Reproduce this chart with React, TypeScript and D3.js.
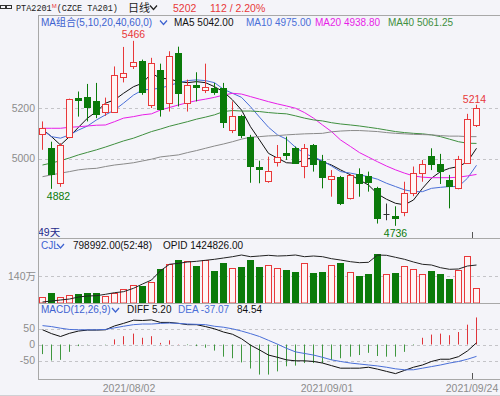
import React from 'react'
import * as d3 from 'd3'

const width = 500
const height = 396

// daily candles, PTA2201, 2021/07 .. 2021/09/24
const opens = [
  5098, 5042, 4906, 5088, 5240, 5243, 5227, 5185, 5187, 5324, 5366, 5388, 5214, 5350, 5221, 5419, 5221,
  5290, 5273, 5280, 5280, 5115, 5170, 5088, 4970, 4914, 4989, 5025, 5042, 4972, 5055, 4993, 4920, 4930,
  4844, 4941, 4933, 4886, 4782, 4774, 4791, 4864, 4946, 5012, 4980, 4917, 4884, 4985, 5135,
]
const highs = [
  5148, 5068, 5062, 5238, 5266, 5296, 5300, 5242, 5365, 5442, 5466, 5392, 5399, 5376, 5425, 5443, 5313,
  5342, 5376, 5300, 5300, 5227, 5174, 5095, 4993, 5009, 5055, 5088, 5049, 5059, 5059, 5016, 4956, 4933,
  4939, 4963, 4950, 4890, 4824, 4813, 4910, 4970, 4996, 5042, 5020, 4937, 5012, 5178, 5214,
]
const lows = [
  5036, 4882, 4890, 5082, 5167, 5148, 5161, 5170, 5183, 5302, 5355, 5253, 5201, 5167, 5187, 5207, 5187,
  5227, 5260, 5253, 5122, 5102, 5082, 4906, 4904, 4906, 4970, 4996, 4980, 4924, 4950, 4884, 4851, 4818,
  4840, 4851, 4871, 4745, 4758, 4736, 4774, 4853, 4910, 4956, 4901, 4805, 4880, 4980, 5126,
]
const closes = [
  5122, 4941, 5055, 5236, 5234, 5203, 5178, 5217, 5330, 5339, 5381, 5263, 5379, 5197, 5406, 5260, 5293,
  5282, 5282, 5266, 5144, 5170, 5095, 4972, 4959, 4954, 5007, 5016, 4983, 5042, 4980, 4927, 4933, 4827,
  4937, 4904, 4910, 4765, 4782, 4768, 4864, 4943, 4980, 4980, 4954, 4893, 4999, 5158, 5202,
]

const ma5 = [
  5117, 5088, 5055, 5088, 5125, 5161, 5187, 5220, 5233, 5259, 5285, 5299, 5338, 5318, 5316, 5305, 5301,
  5305, 5301, 5285, 5265, 5233, 5193, 5127, 5075, 5022, 5003, 4985, 4983, 4996, 5007, 4989, 4976, 4957,
  4937, 4917, 4897, 4862, 4841, 4825, 4819, 4838, 4884, 4924, 4950, 4963, 4970, 4989, 5042,
]
const ma10 = [
  5114, 5088, 5082, 5095, 5114, 5130, 5154, 5174, 5193, 5220, 5252, 5272, 5275, 5279, 5290, 5301, 5309,
  5312, 5309, 5301, 5275, 5259, 5243, 5206, 5165, 5125, 5095, 5078, 5046, 5022, 5007, 4993, 4972, 4950,
  4944, 4937, 4930, 4920, 4904, 4891, 4878, 4871, 4871, 4884, 4888, 4891, 4891, 4924, 4975,
]
const ma20 = [
  5121, 5121, 5121, 5125, 5127, 5130, 5133, 5134, 5147, 5161, 5167, 5174, 5178, 5193, 5203, 5213, 5222,
  5230, 5236, 5243, 5252, 5259, 5256, 5246, 5236, 5226, 5217, 5209, 5200, 5183, 5161, 5134, 5108, 5075,
  5049, 5025, 5007, 4989, 4972, 4957, 4944, 4933, 4928, 4926, 4926, 4926, 4928, 4933, 4938.8,
]
const ma40 = [
  4976, 4984, 4993, 5004, 5016, 5026, 5036, 5047, 5059, 5071, 5082, 5095, 5108, 5118, 5129, 5138, 5147,
  5157, 5165, 5174, 5187, 5191, 5189, 5189, 5187, 5183, 5180, 5178, 5170, 5161, 5154, 5150, 5143, 5138,
  5134, 5130, 5125, 5120, 5114, 5108, 5104, 5101, 5099, 5095, 5088, 5078, 5068, 5062, 5061.25,
]
const ma60 = [
  4930, 4937, 4944, 4950, 4957, 4961, 4963, 4970, 4976, 4980, 4985, 4992, 4999, 5008, 5012, 5016, 5025,
  5033, 5042, 5051, 5059, 5068, 5078, 5086, 5088, 5091, 5092, 5095, 5097, 5099, 5100, 5101, 5107, 5110,
  5112, 5112, 5110, 5108, 5104, 5101, 5099, 5097, 5096, 5095, 5092, 5090, 5090, 5088, 5088,
]

// volume and open interest, in 万
const volumes = [
  33, 51, 30, 40, 46, 54, 54, 37, 54, 72, 94, 89, 109, 178, 203, 225, 217, 194, 225, 168, 208, 182, 187,
  225, 187, 196, 182, 169, 161, 208, 156, 161, 196, 208, 161, 138, 150, 255, 150, 156, 194, 178, 150, 168,
  150, 124, 173, 246, 79.8992,
]
const openInterest = [
  105.5, 106.5, 107.5, 108.5, 110.5, 111.5, 111.8, 113.2, 114.8, 115.8, 119.2, 123.5, 127.5, 136.8, 143.2,
  144.2, 145.5, 146.2, 147.2, 148.2, 149.5, 150.8, 152.5, 150.8, 151.5, 152.2, 151.5, 151.8, 152.5, 150.8,
  151.5, 150.8, 148.8, 147.5, 145.8, 144.8, 145.2, 152.5, 152.2, 150.2, 148.2, 145.5, 143.2, 142.5, 139.8,
  138.2, 138.5, 141.5, 142.4826,
]

// MACD(12,26,9)
const diff = [
  46, 34, 25, 35, 42, 45, 45, 46, 58, 66, 76, 75, 77, 69, 69, 66, 62, 62, 56, 49, 39, 32, 18, -2, -17, -33,
  -40, -48, -51, -51, -53, -58, -66, -74, -74, -74, -71, -77, -84, -91, -81, -71, -64, -53, -46, -46, -38,
  -20, 5.2,
]
const dea = [
  59, 56, 51, 47, 46, 46, 46, 47, 52, 57, 62, 64, 64, 66, 67, 66, 64, 63, 62, 57, 54, 49, 42, 34, 25, 13, 1,
  -12, -23, -28, -33, -40, -48, -53, -58, -61, -64, -67, -71, -76, -79, -79, -74, -69, -64, -58, -53, -46,
  -37.07,
]
const macd = [
  -30, -50, -48, -23, -5, -1, 0, -1, 16, 26, 34, 21, 26, 5, 13, 1, -2, -5, -10, -19, -38, -43, -56, -75,
  -94, -94, -84, -68, -66, -58, -58, -58, -48, -43, -38, -33, -26, -36, -38, -38, -23, -2, 21, 31, 34, 29,
  39, 62, 84.54,
]

const priceTicks = [5000, 5200]
const volTicks = [140]
const macdTicks = [50, 0, -50]
const dateLabels = ['2021/08/02', '2021/09/01', '2021/09/24']
const dateIndex = [11, 33, 48]

const maLines = [
  { name: 'MA5', values: ma5, color: '#111111' },
  { name: 'MA10', values: ma10, color: '#4a6fd8' },
  { name: 'MA20', values: ma20, color: '#e81ee8' },
  { name: 'MA40', values: ma40, color: '#3f8f3f' },
  { name: 'MA60', values: ma60, color: '#8a8a8a' },
]

const RED = '#e8383a'
const GREEN = '#0a7a0a'
const HOLLOW = '#fff4f4'
const BG = '#f4f4f9'
const AXIS = '#a8a8a8'
const TICK = '#8c8c8c'
const BLUE = '#3d62d0'
const font = '"Liberation Sans", Arial, "Noto Sans CJK SC", sans-serif'
const mono = '"Liberation Mono", monospace'

function Chevron({ x, y, color }) {
  return <path d={`M${x},${y} L${x + 3.5},${y + 4} L${x + 7},${y}`} fill="none" stroke={color} strokeWidth={1.2} />
}

export default function App() {
  const idx = d3.range(closes.length)
  const x = d3.scaleBand<number>().domain(idx).range([38, 481]).paddingInner(0.25).paddingOuter(0.125)
  const bw = Math.round(x.bandwidth()) - 1
  const left = (i: number) => Math.round(x(i)!) + 0.5
  const mid = (i: number) => left(i) + bw / 2

  const yPrice = d3.scaleLinear().domain([4688, 5568]).range([238, 15])
  const yVol = d3.scaleLinear().domain([0, 140]).range([303, 276])
  const yOi = d3.scaleLinear().domain([100, 150]).range([307.5, 257.5])
  const yMacd = d3.scaleLinear().domain([-50, 50]).range([360.5, 328.5])
  const crisp = (v: number) => Math.round(v) + 0.5
  const last = closes.length - 1

  const line = (ys: (v: number) => number) =>
    d3
      .line<number>()
      .x((_, i) => mid(i))
      .y((v) => ys(v))

  const candles = idx.map((i) => {
    const o = opens[i]
    const c = closes[i]
    const w = mid(i)
    const top = crisp(yPrice(Math.max(o, c)))
    const bot = crisp(yPrice(Math.min(o, c)))
    const hi = yPrice(highs[i])
    const lo = yPrice(lows[i])
    if (o === c) {
      return (
        <g key={i} stroke="#333">
          <line x1={w} x2={w} y1={hi} y2={lo} />
          <line x1={left(i)} x2={left(i) + bw} y1={top} y2={top} />
        </g>
      )
    }
    if (c > o) {
      return (
        <g key={i} stroke={RED}>
          <line x1={w} x2={w} y1={hi} y2={top} />
          <line x1={w} x2={w} y1={bot} y2={lo} />
          <rect x={left(i)} y={top} width={bw} height={Math.max(bot - top, 1)} fill={HOLLOW} />
        </g>
      )
    }
    return (
      <g key={i} stroke={GREEN}>
        <line x1={w} x2={w} y1={hi} y2={lo} />
        <rect x={left(i)} y={top} width={bw} height={Math.max(bot - top, 1)} fill={GREEN} />
      </g>
    )
  })

  const volBars = idx.map((i) => {
    const up = closes[i] >= opens[i]
    const top = crisp(yVol(volumes[i]))
    return (
      <rect
        key={i}
        x={left(i)}
        y={top}
        width={bw}
        height={yVol(0) - top}
        fill={up ? HOLLOW : GREEN}
        stroke={up ? RED : GREEN}
      />
    )
  })

  const macdBars = idx.map((i) => (
    <line
      key={i}
      x1={mid(i)}
      x2={mid(i)}
      y1={yMacd(0)}
      y2={yMacd(macd[i])}
      stroke={macd[i] >= 0 ? '#e0343a' : '#3f973f'}
    />
  ))

  const grid = (ys: number[], scale: (v: number) => number) =>
    ys.map((t) => (
      <line key={t} x1={39} x2={width} y1={crisp(scale(t))} y2={crisp(scale(t))} stroke="#c4c4c8" strokeDasharray="3 3" />
    ))

  const hiIdx = highs.indexOf(d3.max(highs)!)
  const loIdx = lows.indexOf(d3.min(lows)!)
  const change = closes[last] - 5090

  return (
    <svg
      width={width}
      height={height}
      style={{ position: 'fixed', left: 0, top: 0, background: BG, fontFamily: font }}
    >
      <rect width={width} height={height} fill={BG} />

      {/* header */}
      <g fill="none" stroke="#333" strokeWidth={1}>
        <rect x={0.5} y={5.5} width={5} height={3} />
        <rect x={6.5} y={5.5} width={5} height={3} />
      </g>
      <text x={16} y={11} fontSize={8.5} fontFamily={mono} fill="#222">
        PTA2201
        <tspan fill={RED} fontSize={6} fontFamily={font} dy={-3}>M</tspan>
        <tspan dy={3}>(CZCE TA201)</tspan>
      </text>
      <text x={128} y={11.5} fontSize={11} fontFamily='"Noto Sans CJK SC", sans-serif' fill="#222">日线</text>
      <Chevron x={150} y={5.5} color="#222" />
      <text x={173} y={11.5} fontSize={10.5} fill={RED}>{closes[last]}</text>
      <text x={210} y={11.5} fontSize={10.5} fill={RED}>{change} / 2.20%</text>
      <line x1={38} x2={width} y1={15.5} y2={15.5} stroke={AXIS} />

      {/* price panel */}
      {grid(priceTicks, yPrice)}
      {priceTicks.map((t) => (
        <text key={t} x={35} y={yPrice(t) + 3.5} fontSize={10.5} fill={TICK} textAnchor="end">{t}</text>
      ))}
      {maLines.map((m) => (
        <path key={m.name} d={line(yPrice)(m.values)!} fill="none" stroke={m.color} strokeWidth={1} />
      ))}
      {candles}
      <text x={mid(hiIdx)} y={yPrice(highs[hiIdx]) - 3} fontSize={10.5} fill={RED} textAnchor="middle">{highs[hiIdx]}</text>
      <text x={mid(1) + 7} y={yPrice(lows[1]) + 11} fontSize={10.5} fill={GREEN} textAnchor="middle">{lows[1]}</text>
      <text x={mid(loIdx)} y={yPrice(lows[loIdx]) + 11} fontSize={10.5} fill={GREEN} textAnchor="middle">{lows[loIdx]}</text>
      <text x={mid(last) - 2} y={yPrice(highs[last]) - 2} fontSize={10.5} fill={RED} textAnchor="middle">{highs[last]}</text>

      <g fontSize={10}>
        <text x={41} y={26} fill={BLUE}>MA组合(5,10,20,40,60,0)</text>
        <Chevron x={160} y={20.5} color={BLUE} />
        <text x={174} y={26} fill="#111">MA5 {ma5[last].toFixed(2)}</text>
        <text x={246} y={26} fill="#4a6fd8">MA10 {ma10[last].toFixed(2)}</text>
        <text x={315} y={26} fill="#e81ee8">MA20 {ma20[last].toFixed(2)}</text>
        <text x={388} y={26} fill="#3f8f3f">MA40 {ma40[last].toFixed(2)}</text>
      </g>
      <text x={38} y={236} fontSize={10.5} fill="#1e2a8a">{closes.length}天</text>
      <line x1={38} x2={width} y1={238.5} y2={238.5} stroke={AXIS} />

      {/* volume panel */}
      {grid(volTicks, yVol)}
      {volTicks.map((t) => (
        <text key={t} x={36} y={yVol(t) + 3.5} fontSize={10.5} fill={TICK} textAnchor="end">{t}万</text>
      ))}
      {volBars}
      <path d={line(yOi)(openInterest)!} fill="none" stroke="#222" strokeWidth={1} />
      <g fontSize={10}>
        <text x={41} y={249} fill={BLUE}>CJL</text>
        <Chevron x={57} y={244} color={BLUE} />
        <text x={73} y={249} fill="#111">{(volumes[last] * 10000).toFixed(2)}(52:48)</text>
        <text x={163} y={249} fill="#111">OPID {(openInterest[last] * 10000).toFixed(2)}</text>
      </g>
      <line x1={38} x2={width} y1={303.5} y2={303.5} stroke={AXIS} />

      {/* macd panel */}
      {grid(macdTicks, yMacd)}
      {macdTicks.map((t) => (
        <text key={t} x={35} y={yMacd(t) + 3.5} fontSize={10.5} fill={TICK} textAnchor="end">{t}</text>
      ))}
      {macdBars}
      <path d={line(yMacd)(diff)!} fill="none" stroke="#111" strokeWidth={1} />
      <path d={line(yMacd)(dea)!} fill="none" stroke="#4a6fd8" strokeWidth={1} />
      <g fontSize={10}>
        <text x={41} y={313} fill={BLUE}>MACD(12,26,9)</text>
        <Chevron x={112} y={308} color={BLUE} />
        <text x={127} y={313} fill="#111">DIFF {diff[last].toFixed(2)}</text>
        <text x={178} y={313} fill="#4a6fd8">DEA {dea[last].toFixed(2)}</text>
        <text x={237} y={313} fill="#111">{macd[last].toFixed(2)}</text>
      </g>
      <line x1={38} x2={width} y1={379.5} y2={379.5} stroke={AXIS} />

      {/* cursor ticks */}
      <line x1={472.5} x2={472.5} y1={232} y2={238} stroke="#555" />
      <line x1={472.5} x2={472.5} y1={373} y2={379} stroke="#555" />

      {/* left axis */}
      <line x1={38.5} x2={38.5} y1={15} y2={380} stroke={AXIS} />

      {/* dates */}
      {dateLabels.map((d, k) => (
        <text
          key={d}
          x={k === dateLabels.length - 1 ? 472 : mid(dateIndex[k]) - 13.5}
          y={391.5}
          fontSize={10.5}
          fill={TICK}
          textAnchor="middle"
        >
          {d}
        </text>
      ))}
      <line x1={0} x2={width} y1={395.5} y2={395.5} stroke="#d0d0d4" />
    </svg>
  )
}
